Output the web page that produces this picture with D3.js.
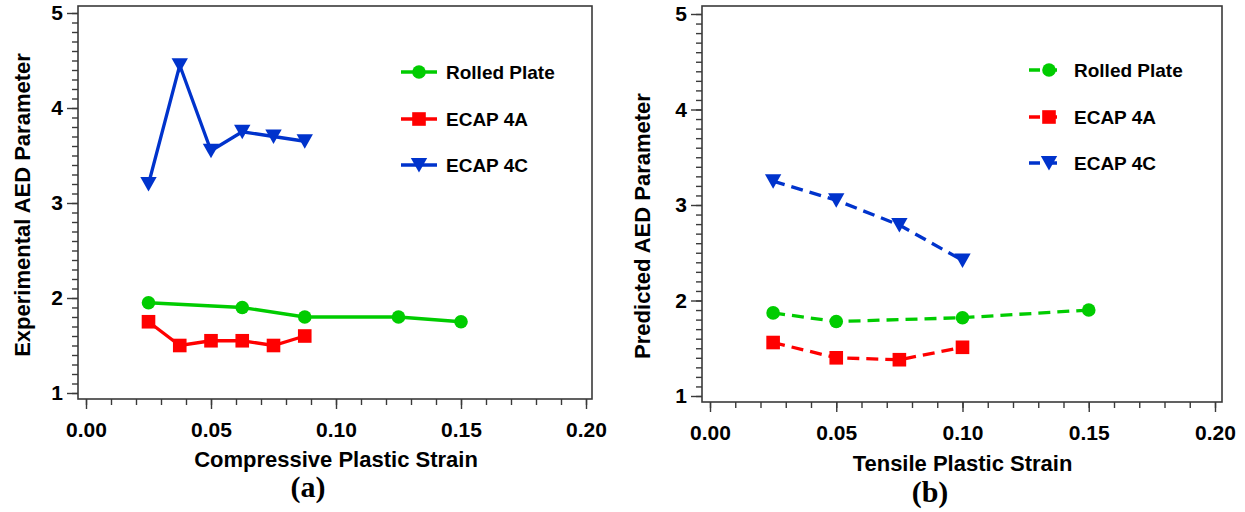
<!DOCTYPE html>
<html>
<head>
<meta charset="utf-8">
<script src="https://cdn.jsdelivr.net/npm/d3@7"></script>
<style>
  html, body { margin: 0; padding: 0; background: #fff; }
  svg { display: block; }
  text { font-family: "Liberation Sans", Arial, sans-serif; font-weight: bold; fill: #000; }
  .panel-label { font-family: "Liberation Serif", "Times New Roman", serif; font-weight: bold; }
</style>
</head>
<body>
<svg id="chart" width="1245" height="512"></svg>
<script>
// ---------------- DATA ----------------
const seriesNames = ["Rolled Plate", "ECAP 4A", "ECAP 4C"];
const xTickLabels = ["0.00", "0.05", "0.10", "0.15", "0.20"];
const yTickLabels = ["1", "2", "3", "4", "5"];

// Panel (a): experimental, compressive strain
const aRolledX = [0.025, 0.0625, 0.0875, 0.125, 0.15];
const aRolledY = [1.95, 1.90, 1.80, 1.80, 1.75];
const a4AX = [0.025, 0.0375, 0.05, 0.0625, 0.075, 0.0875];
const a4AY = [1.75, 1.50, 1.55, 1.55, 1.50, 1.60];
const a4CX = [0.025, 0.0375, 0.05, 0.0625, 0.075, 0.0875];
const a4CY = [3.20, 4.45, 3.55, 3.75, 3.70, 3.65];

// Panel (b): predicted, tensile strain
const bRolledX = [0.025, 0.05, 0.10, 0.15];
const bRolledY = [1.87, 1.78, 1.82, 1.90];
const b4AX = [0.025, 0.05, 0.075, 0.10];
const b4AY = [1.56, 1.40, 1.38, 1.51];
const b4CX = [0.025, 0.05, 0.075, 0.10];
const b4CY = [3.25, 3.05, 2.79, 2.42];

const colors = ["#00cc00", "#ff0000", "#0033cc"];
const shapes = ["circle", "square", "triangle"];

// ---------------- DRAW ----------------
const svg = d3.select("#chart");

function marker(g, shape, color) {
  if (shape === "circle") {
    g.append("circle").attr("r", 6.8).attr("fill", color);
  } else if (shape === "square") {
    g.append("rect").attr("x", -6.8).attr("y", -6.8).attr("width", 13.6).attr("height", 13.6).attr("fill", color);
  } else {
    g.append("path").attr("d", "M-8.2,-7 L8.2,-7 L0,7.5 Z").attr("fill", color);
  }
}

function panel(cfg) {
  const x = d3.scaleLinear().domain([0, 0.2]).range([cfg.xr0, cfg.xr1]);
  const y = d3.scaleLinear().domain([1, 5]).range([cfg.yr0, cfg.yr1]);
  const g = svg.append("g");

  // frame
  g.append("rect")
    .attr("x", cfg.fx0).attr("y", cfg.fy0)
    .attr("width", cfg.fx1 - cfg.fx0).attr("height", cfg.fy1 - cfg.fy0)
    .attr("fill", "none").attr("stroke", "#3a3a3a").attr("stroke-width", 1.6);

  // y axis (minor + major)
  const yMinor = d3.range(10, 51).map(v => v / 10);
  const yAxisMinor = g.append("g").attr("transform", `translate(${cfg.fx0},0)`)
    .call(d3.axisLeft(y).tickValues(yMinor).tickSize(6).tickFormat(""));
  const yAxisMajor = g.append("g").attr("transform", `translate(${cfg.fx0},0)`)
    .call(d3.axisLeft(y).tickValues(yTickLabels.map(Number)).tickSize(11).tickPadding(4)
      .tickFormat((d, i) => yTickLabels[i]));
  // x axis (minor + major)
  const xMinor = d3.range(0, 21).map(v => v / 100);
  const xAxisMinor = g.append("g").attr("transform", `translate(0,${cfg.fy1})`)
    .call(d3.axisBottom(x).tickValues(xMinor).tickSize(6).tickFormat(""));
  const xAxisMajor = g.append("g").attr("transform", `translate(0,${cfg.fy1})`)
    .call(d3.axisBottom(x).tickValues(xTickLabels.map(Number)).tickSize(10).tickPadding(cfg.xPad)
      .tickFormat((d, i) => xTickLabels[i]));
  [yAxisMinor, yAxisMajor, xAxisMinor, xAxisMajor].forEach(a => {
    a.select(".domain").remove();
    a.selectAll("line").attr("stroke", "#3a3a3a").attr("stroke-width", 1.4);
    a.selectAll("text").attr("font-size", 21).attr("font-family", "Liberation Sans, Arial, sans-serif")
      .attr("font-weight", "bold").attr("fill", "#000");
  });

  // axis titles
  g.append("text").attr("x", (cfg.xr0 + cfg.xr1) / 2).attr("y", cfg.xTitleY)
    .attr("text-anchor", "middle").attr("font-size", 22).text(cfg.xTitle);
  g.append("text").attr("transform", `translate(${cfg.yTitleX},${cfg.yTitleCY}) rotate(-90)`)
    .attr("text-anchor", "middle").attr("font-size", 22).text(cfg.yTitle);
  g.append("text").attr("class", "panel-label").attr("x", cfg.labX).attr("y", cfg.labY)
    .attr("text-anchor", "middle").attr("font-size", 30).text(cfg.label);

  // series
  const line = d3.line().x(d => x(d[0])).y(d => y(d[1]));
  cfg.series.forEach((s, i) => {
    const pts = s.xs.map((v, k) => [v, s.ys[k]]);
    g.append("path").datum(pts).attr("d", line)
      .attr("fill", "none").attr("stroke", colors[i]).attr("stroke-width", 3.3)
      .attr("stroke-dasharray", cfg.dash || null);
    pts.forEach(p => {
      const m = g.append("g").attr("transform", `translate(${x(p[0])},${y(p[1])})`);
      marker(m, shapes[i], colors[i]);
    });
  });

  // legend
  seriesNames.forEach((name, i) => {
    const ly = cfg.legY[i];
    g.append("line").attr("x1", cfg.legX0).attr("x2", cfg.legX1).attr("y1", ly).attr("y2", ly)
      .attr("stroke", colors[i]).attr("stroke-width", 3.3).attr("stroke-dasharray", cfg.legDash || null);
    const m = g.append("g").attr("transform", `translate(${cfg.legM},${ly})`);
    marker(m, shapes[i], colors[i]);
    g.append("text").attr("x", cfg.legT).attr("y", ly).attr("dy", "0.36em")
      .attr("font-size", 19).text(name);
  });
}

panel({
  fx0: 78, fx1: 592, fy0: 6, fy1: 399,
  xr0: 86, xr1: 586, yr0: 393, yr1: 13,
  xPad: 13,
  xTitle: "Compressive Plastic Strain", xTitleY: 467,
  yTitle: "Experimental AED Parameter", yTitleX: 30, yTitleCY: 205,
  label: "(a)", labX: 308, labY: 497,
  series: [
    { xs: aRolledX, ys: aRolledY },
    { xs: a4AX, ys: a4AY },
    { xs: a4CX, ys: a4CY }
  ],
  legX0: 401, legX1: 437, legM: 419, legT: 446, legY: [72, 119, 165]
});

panel({
  fx0: 702, fx1: 1222, fy0: 6, fy1: 402,
  xr0: 710, xr1: 1215, yr0: 396, yr1: 14,
  xPad: 13,
  xTitle: "Tensile Plastic Strain", xTitleY: 471,
  yTitle: "Predicted AED Parameter", yTitleX: 650, yTitleCY: 226,
  label: "(b)", labX: 930, labY: 502,
  dash: "12,7", legDash: "11,6",
  series: [
    { xs: bRolledX, ys: bRolledY },
    { xs: b4AX, ys: b4AY },
    { xs: b4CX, ys: b4CY }
  ],
  legX0: 1029, legX1: 1059, legM: 1049, legT: 1074, legY: [70, 117, 163]
});
</script>
</body>
</html>
